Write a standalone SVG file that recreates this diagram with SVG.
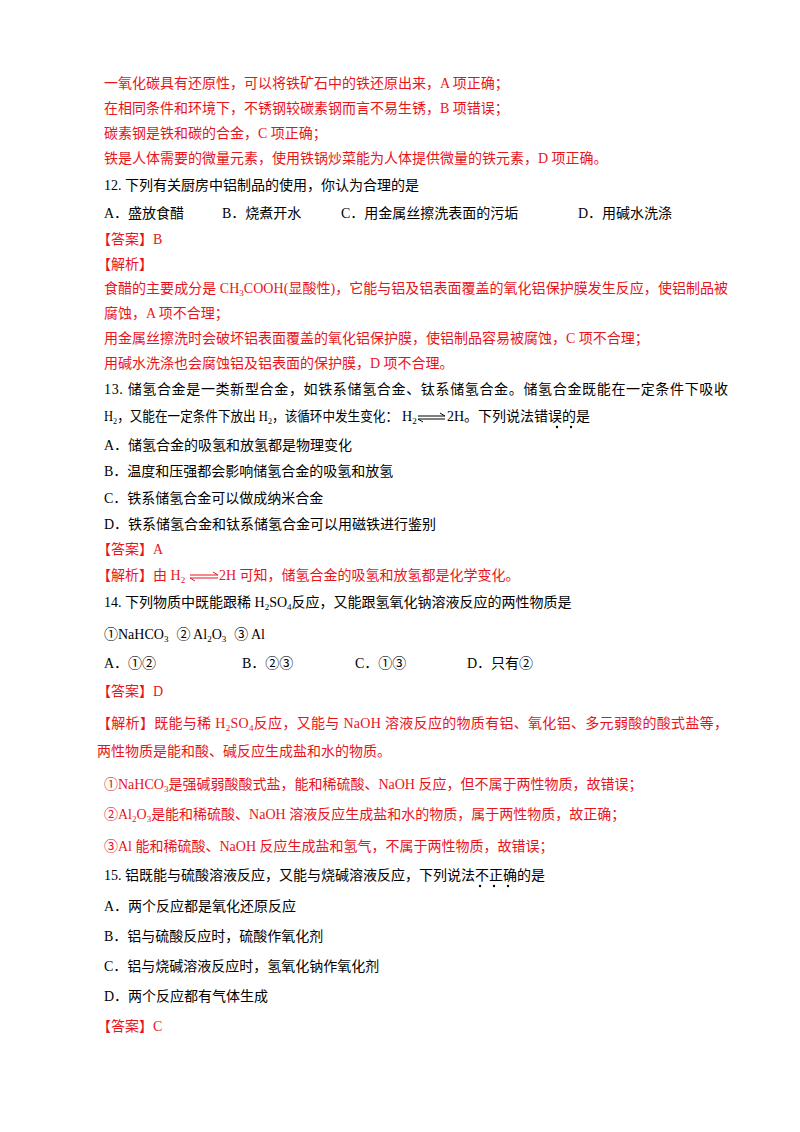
<svg xmlns="http://www.w3.org/2000/svg" width="800" height="1132" viewBox="0 0 800 1132">
<style>
text{font-family:"Liberation Serif","Noto Sans CJK SC",serif;font-size:14px;fill:#000}
.r{fill:#e8141c}
.s{font-size:9px}
.eq{stroke-width:1;fill:none}
</style>
<rect width="800" height="1132" fill="#fff"/>
<text class="r" x="104" y="88">一氧化碳具有还原性，可以将铁矿石中的铁还原出来，A 项正确；</text>
<text class="r" x="104" y="113">在相同条件和环境下，不锈钢较碳素钢而言不易生锈，B 项错误；</text>
<text class="r" x="104" y="138">碳素钢是铁和碳的合金，C 项正确；</text>
<text class="r" x="104" y="163">铁是人体需要的微量元素，使用铁锅炒菜能为人体提供微量的铁元素，D 项正确。</text>
<text x="104" y="190">12. 下列有关厨房中铝制品的使用，你认为合理的是</text>
<text x="104" y="218">A．盛放食醋<tspan x="222">B．烧煮开水</tspan><tspan x="341">C．用金属丝擦洗表面的污垢</tspan><tspan x="578">D．用碱水洗涤</tspan></text>
<text class="r" x="97" y="244">【答案】B</text>
<text class="r" x="97" y="269">【解析】</text>
<text class="r" x="104" y="293" textLength="624" lengthAdjust="spacing">食醋的主要成分是 CH<tspan class="s" dy="3">3</tspan><tspan dy="-3">COOH(显酸性)，它能与铝及铝表面覆盖的氧化铝保护膜发生反应，使铝制品被</tspan></text>
<text class="r" x="104" y="318">腐蚀，A 项不合理；</text>
<text class="r" x="104" y="343">用金属丝擦洗时会破坏铝表面覆盖的氧化铝保护膜，使铝制品容易被腐蚀，C 项不合理；</text>
<text class="r" x="104" y="368">用碱水洗涤也会腐蚀铝及铝表面的保护膜，D 项不合理。</text>
<text x="104" y="394" textLength="624" lengthAdjust="spacing">13. 储氢合金是一类新型合金，如铁系储氢合金、钛系储氢合金。储氢合金既能在一定条件下吸收</text>
<text x="104" y="421" textLength="294" lengthAdjust="spacingAndGlyphs">H<tspan class="s" dy="3">2</tspan><tspan dy="-3">，又能在一定条件下放出 H</tspan><tspan class="s" dy="3">2</tspan><tspan dy="-3">，该循环中发生变化：</tspan></text>
<text x="402" y="421">H<tspan class="s" dy="3">2</tspan></text>
<text x="447" y="421">2H。下列说法错误的是</text>
<g id="dots"><circle cx="557" cy="427" r="1.2"/><circle cx="571" cy="427" r="1.2"/>
<circle cx="480" cy="886" r="1.2"/><circle cx="494" cy="886" r="1.2"/><circle cx="508" cy="886" r="1.2"/></g>
<text x="104" y="450">A．储氢合金的吸氢和放氢都是物理变化</text>
<text x="104" y="476">B．温度和压强都会影响储氢合金的吸氢和放氢</text>
<text x="104" y="503">C．铁系储氢合金可以做成纳米合金</text>
<text x="104" y="529">D．铁系储氢合金和钛系储氢合金可以用磁铁进行鉴别</text>
<text class="r" x="97" y="554">【答案】A</text>
<text class="r" x="97" y="580">【解析】由 H<tspan class="s" dy="3">2</tspan></text>
<text class="r" x="219" y="580">2H 可知，储氢合金的吸氢和放氢都是化学变化。</text>
<g id="connectors">
<path class="eq" stroke="#000" d="M418 416H445l-5 -3M418 419H445M418 419l5 3"/>
<path class="eq" stroke="#e8141c" d="M190 575H218l-5 -3M190 578H218M190 578l5 3"/>
</g>
<text x="104" y="607">14. 下列物质中既能跟稀 H<tspan class="s" dy="3">2</tspan><tspan dy="-3">SO</tspan><tspan class="s" dy="3">4</tspan><tspan dy="-3">反应，又能跟氢氧化钠溶液反应的两性物质是</tspan></text>
<text x="104" y="639">①NaHCO<tspan class="s" dy="3">3</tspan><tspan dy="-3" dx="8">② Al</tspan><tspan class="s" dy="3">2</tspan><tspan dy="-3">O</tspan><tspan class="s" dy="3">3</tspan><tspan dy="-3" dx="8">③ Al</tspan></text>
<text x="104" y="668">A．①②<tspan x="242">B．②③</tspan><tspan x="355">C．①③</tspan><tspan x="467">D．只有②</tspan></text>
<text class="r" x="97" y="696">【答案】D</text>
<text class="r" x="97" y="728" textLength="631" lengthAdjust="spacing">【解析】既能与稀 H<tspan class="s" dy="3">2</tspan><tspan dy="-3">SO</tspan><tspan class="s" dy="3">4</tspan><tspan dy="-3">反应，又能与 NaOH 溶液反应的物质有铝、氧化铝、多元弱酸的酸式盐等，</tspan></text>
<text class="r" x="97" y="756">两性物质是能和酸、碱反应生成盐和水的物质。</text>
<text class="r" x="104" y="789">①NaHCO<tspan class="s" dy="3">3</tspan><tspan dy="-3">是强碱弱酸酸式盐，能和稀硫酸、NaOH 反应，但不属于两性物质，故错误；</tspan></text>
<text class="r" x="104" y="819">②Al<tspan class="s" dy="3">2</tspan><tspan dy="-3">O</tspan><tspan class="s" dy="3">3</tspan><tspan dy="-3">是能和稀硫酸、NaOH 溶液反应生成盐和水的物质，属于两性物质，故正确；</tspan></text>
<text class="r" x="104" y="851">③Al 能和稀硫酸、NaOH 反应生成盐和氢气，不属于两性物质，故错误；</text>
<text x="104" y="880">15. 铝既能与硫酸溶液反应，又能与烧碱溶液反应，下列说法不正确的是</text>
<text x="104" y="911">A．两个反应都是氧化还原反应</text>
<text x="104" y="941">B．铝与硫酸反应时，硫酸作氧化剂</text>
<text x="104" y="971">C．铝与烧碱溶液反应时，氢氧化钠作氧化剂</text>
<text x="104" y="1001">D．两个反应都有气体生成</text>
<text class="r" x="97" y="1031">【答案】C</text>
</svg>
